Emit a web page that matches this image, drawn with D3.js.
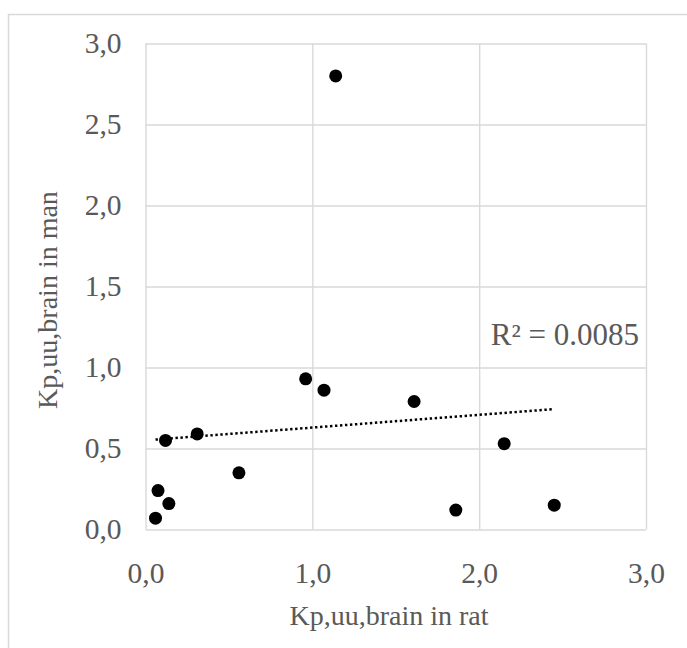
<!DOCTYPE html>
<html>
<head>
<meta charset="utf-8">
<script src="https://cdn.jsdelivr.net/npm/d3@7"></script>
<style>
  body { margin: 0; background: #fff; }
  text { font-family: "Liberation Serif", "Times New Roman", serif; fill: #595959; }
</style>
</head>
<body>
<div id="chart-container"></div>
<script>
// values
const ratKp = [0.06, 0.075, 0.14, 0.12, 0.31, 0.56, 0.96, 1.07, 1.14, 1.61, 1.86, 2.15, 2.45];
const manKp = [0.07, 0.24, 0.16, 0.55, 0.59, 0.35, 0.93, 0.86, 2.80, 0.79, 0.12, 0.53, 0.15];
const xTicks = [0, 1, 2, 3];
const yTicks = [0, 0.5, 1, 1.5, 2, 2.5, 3];
const xTitle = 'Kp,uu,brain in rat';
const yTitle = 'Kp,uu,brain in man';
const r2Label = 'R² = 0.0085';

const data = ratKp.map((x, i) => ({ x: x, y: manKp[i] }));

const W = 687, H = 648;
const margin = { top: 43.5, right: 41, bottom: 118.5, left: 145.5 };
const width = W - margin.left - margin.right;
const height = H - margin.top - margin.bottom;

const svg = d3.select('#chart-container')
    .append('svg')
    .attr('width', W)
    .attr('height', H);

// outer chart border
svg.append('rect')
    .attr('x', 8.5)
    .attr('y', 14.5)
    .attr('width', W)
    .attr('height', H)
    .attr('fill', '#fff')
    .attr('stroke', '#d9d9d9')
    .attr('stroke-width', 1.5);

const g = svg.append('g')
    .attr('transform', `translate(${margin.left},${margin.top})`);

const x = d3.scaleLinear().domain([0, 3]).range([0, width]);
const y = d3.scaleLinear().domain([0, 3]).range([height, 0]);

const fmt = (d) => d3.format('.1f')(d).replace('.', ',');

// gridlines
const xGrid = g.append('g')
    .attr('transform', `translate(0,${height})`)
    .call(d3.axisBottom(x).tickValues(xTicks).tickSize(-height).tickFormat(''));
const yGrid = g.append('g')
    .call(d3.axisLeft(y).tickValues(yTicks).tickSize(-width).tickFormat(''));
[xGrid, yGrid].forEach((a) => {
    a.select('.domain').remove();
    a.selectAll('line').attr('stroke', '#d9d9d9').attr('stroke-width', 1.4);
});

// tick labels
const xAxis = g.append('g')
    .attr('transform', `translate(0,${height})`)
    .call(d3.axisBottom(x).tickValues(xTicks).tickSize(0).tickPadding(33).tickFormat(fmt));
const yAxis = g.append('g')
    .call(d3.axisLeft(y).tickValues(yTicks).tickSize(0).tickPadding(24).tickFormat(fmt));
[xAxis, yAxis].forEach((a) => {
    a.select('.domain').remove();
    a.selectAll('text')
        .style('font-family', '"Liberation Serif", serif')
        .style('font-size', '29.5px')
        .attr('fill', '#595959');
});

// linear trendline (least squares) over the data range
const mx = d3.mean(data, (d) => d.x);
const my = d3.mean(data, (d) => d.y);
const slope = d3.sum(data, (d) => (d.x - mx) * (d.y - my)) / d3.sum(data, (d) => (d.x - mx) ** 2);
const icpt = my - slope * mx;
const xExt = d3.extent(data, (d) => d.x);

const trend = d3.line()
    .x((d) => x(d.x))
    .y((d) => y(d.y));

g.append('path')
    .datum(xExt.map((v) => ({ x: v, y: icpt + slope * v })))
    .attr('fill', 'none')
    .attr('stroke', '#000')
    .attr('stroke-width', 2.5)
    .attr('stroke-dasharray', '2.4,2.6')
    .attr('d', trend);

// points
g.selectAll('circle')
    .data(data)
    .enter()
    .append('circle')
    .attr('cx', (d) => x(d.x))
    .attr('cy', (d) => y(d.y))
    .attr('r', 6.5)
    .attr('fill', '#000');

// R² label
g.append('text')
    .attr('x', x(2.07))
    .attr('y', y(1.14))
    .style('font-size', '31px')
    .text(r2Label);

// axis titles
svg.append('text')
    .attr('text-anchor', 'middle')
    .attr('x', 389)
    .attr('y', 625)
    .style('font-size', '28px')
    .text(xTitle);

svg.append('text')
    .attr('text-anchor', 'middle')
    .attr('transform', 'translate(57,300) rotate(-90)')
    .style('font-size', '28px')
    .text(yTitle);
</script>
</body>
</html>
